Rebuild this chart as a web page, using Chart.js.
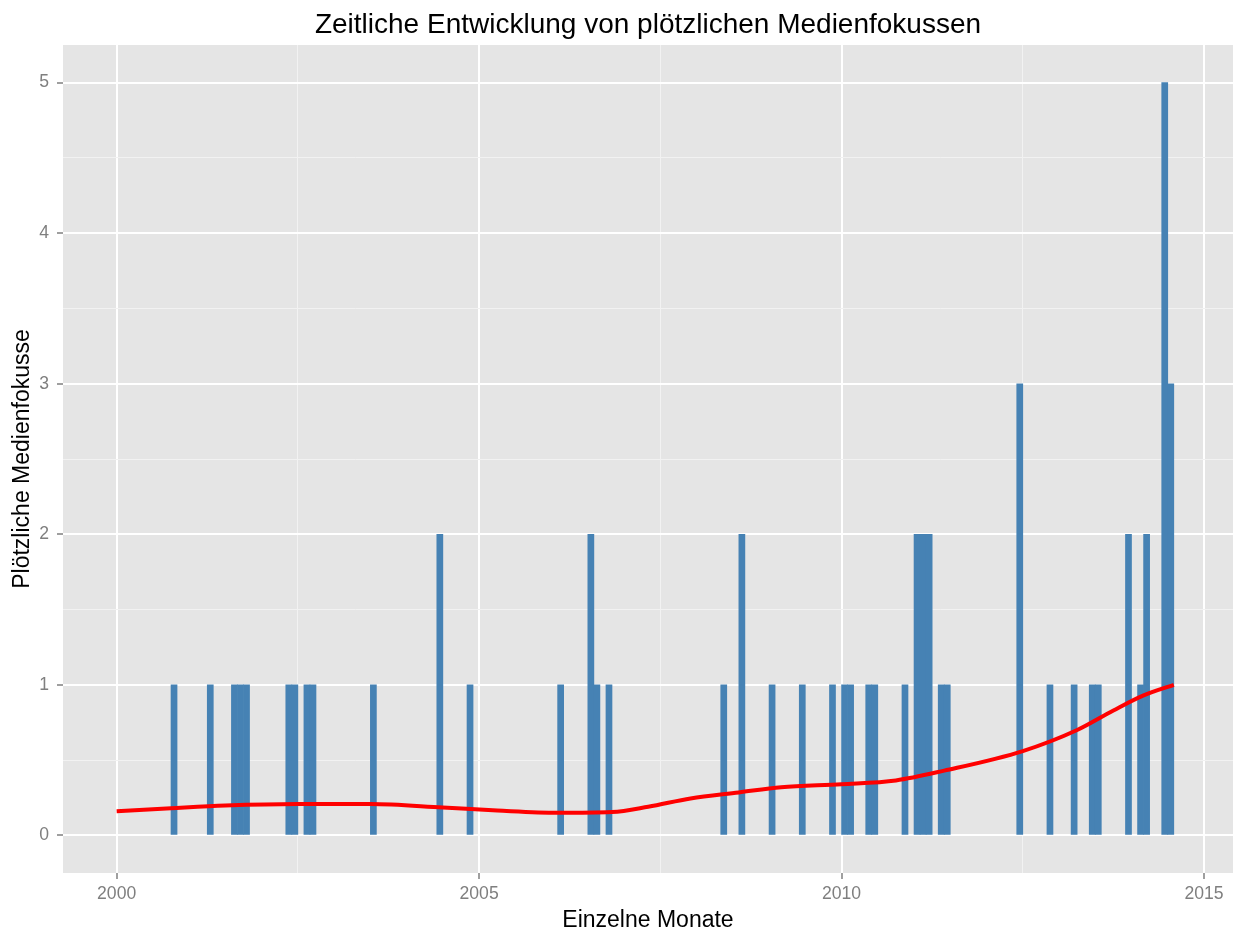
<!DOCTYPE html>
<html lang="de">
<head>
<meta charset="UTF-8" />
<title>Zeitliche Entwicklung von plötzlichen Medienfokussen</title>
<style>
  body { margin: 0; background: #fff; }
  canvas { display: block; }
</style>
</head>
<body>
<canvas id="chart" width="1233" height="931"></canvas>
<script src="https://cdn.jsdelivr.net/npm/chart.js"></script>
<script>
// Monate mit plötzlichen Medienfokussen (alle anderen Monate: 0)
const eventMonths = [
  "2000-10", "2001-04", "2001-08", "2001-09", "2001-10", "2002-05", "2002-06",
  "2002-08", "2002-09", "2003-07", "2004-06", "2004-11", "2006-02", "2006-07",
  "2006-08", "2006-10", "2008-05", "2008-08", "2009-01", "2009-06", "2009-11",
  "2010-01", "2010-02", "2010-05", "2010-06", "2010-11", "2011-01", "2011-02",
  "2011-03", "2011-05", "2011-06", "2012-06", "2012-11", "2013-03", "2013-06",
  "2013-07", "2013-12", "2014-02", "2014-03", "2014-06", "2014-07"
];
const eventCounts = [
  1, 1, 1, 1, 1, 1, 1,
  1, 1, 1, 2, 1, 1, 2,
  1, 1, 1, 2, 1, 1, 1,
  1, 1, 1, 1, 1, 2, 2,
  2, 1, 1, 3, 1, 1, 1,
  1, 2, 1, 2, 5, 3
];

// geglaettete Linie (loess)
const smoothMonths = [
  "2000-01", "2000-10", "2001-07", "2002-07", "2003-07", "2004-07", "2005-04",
  "2006-02", "2006-11", "2007-05", "2007-12", "2008-08", "2009-03", "2010-01",
  "2010-10", "2011-06", "2012-07", "2013-04", "2013-10", "2014-03", "2014-08"
];
const smoothValues = [
  0.16, 0.18, 0.198, 0.208, 0.208, 0.185, 0.165,
  0.15, 0.155, 0.19, 0.245, 0.285, 0.32, 0.34,
  0.365, 0.43, 0.56, 0.70, 0.83, 0.93, 1.0
];

const xMajor = [2000, 2005, 2010, 2015];
const yMajor = [0, 1, 2, 3, 4, 5];

const FONT = "'Liberation Sans', Arial, sans-serif";
const GREY = "#7f7f7f";

function monthToYear(m, shift) {
  const [y, mo] = m.split("-").map(Number);
  return y + (mo - 1 + shift) / 12;
}

function withMinor(major) {
  const out = [];
  major.forEach((v, i) => {
    out.push({ value: v, major: true });
    if (i < major.length - 1) out.push({ value: (v + major[i + 1]) / 2, major: false });
  });
  return out;
}

const isMajor = (ctx) => ctx.tick && ctx.tick.major;

const panelBg = {
  id: "panelBg",
  beforeDraw(chart) {
    const { ctx, chartArea: a } = chart;
    ctx.save();
    ctx.fillStyle = "#e5e5e5";
    ctx.fillRect(a.left, a.top, a.right - a.left, a.bottom - a.top);
    ctx.restore();
  },
};

const gridOpts = {
  color: (c) => (isMajor(c) ? "#ffffff" : "#f2f2f2"),
  lineWidth: (c) => (isMajor(c) ? 2 : 1),
  tickColor: (c) => (isMajor(c) ? GREY : "rgba(0,0,0,0)"),
  tickWidth: 1.5,
  tickLength: 6,
  drawTicks: true,
  offset: false,
};

new Chart(document.getElementById("chart"), {
  type: "bar",
  data: {
    datasets: [
      {
        type: "line",
        data: smoothMonths.map((m, i) => ({ x: monthToYear(m, 0), y: smoothValues[i] })),
        borderColor: "#ff0000",
        borderWidth: 4,
        pointRadius: 0,
        cubicInterpolationMode: "monotone",
        fill: false,
        order: 0,
      },
      {
        data: eventMonths.map((m, i) => ({ x: monthToYear(m, 0.5), y: eventCounts[i] })),
        backgroundColor: "#4682b4",
        borderWidth: 0,
        categoryPercentage: 1,
        barPercentage: 1,
        order: 1,
      },
    ],
  },
  options: {
    responsive: false,
    animation: false,
    devicePixelRatio: 1,
    layout: { padding: 0 },
    plugins: {
      legend: { display: false },
      tooltip: { enabled: false },
      title: {
        display: true,
        fullSize: false,
        text: "Zeitliche Entwicklung von plötzlichen Medienfokussen",
        color: "#000",
        font: { family: FONT, size: 28, weight: "normal", lineHeight: 1 },
        padding: { top: 11, bottom: 6 },
      },
    },
    scales: {
      x: {
        type: "linear",
        min: 1999.26,
        max: 2015.4,
        offset: false,
        border: { display: false },
        grid: gridOpts,
        afterBuildTicks: (s) => { s.ticks = withMinor(xMajor); },
        afterFit: (s) => { s.height = 58; },
        ticks: {
          autoSkip: false,
          maxRotation: 0,
          padding: 5,
          color: GREY,
          font: { family: FONT, size: 17.6 },
          callback: (v) => (xMajor.includes(v) ? String(v) : ""),
        },
        title: {
          display: true,
          text: "Einzelne Monate",
          color: "#000",
          font: { family: FONT, size: 23, lineHeight: 1 },
          padding: { top: 0, bottom: -1 },
        },
      },
      y: {
        min: -0.25,
        max: 5.25,
        border: { display: false },
        grid: gridOpts,
        afterBuildTicks: (s) => { s.ticks = withMinor(yMajor); },
        afterFit: (s) => { s.width = 63; },
        ticks: {
          autoSkip: false,
          padding: 8,
          color: GREY,
          font: { family: FONT, size: 17.6 },
          callback: (v) => (yMajor.includes(v) ? String(v) : ""),
        },
        title: {
          display: true,
          text: "Plötzliche Medienfokusse",
          color: "#000",
          font: { family: FONT, size: 23, lineHeight: 1 },
          padding: { top: 11, bottom: 11 },
        },
      },
    },
  },
  plugins: [panelBg],
});
</script>
</body>
</html>
